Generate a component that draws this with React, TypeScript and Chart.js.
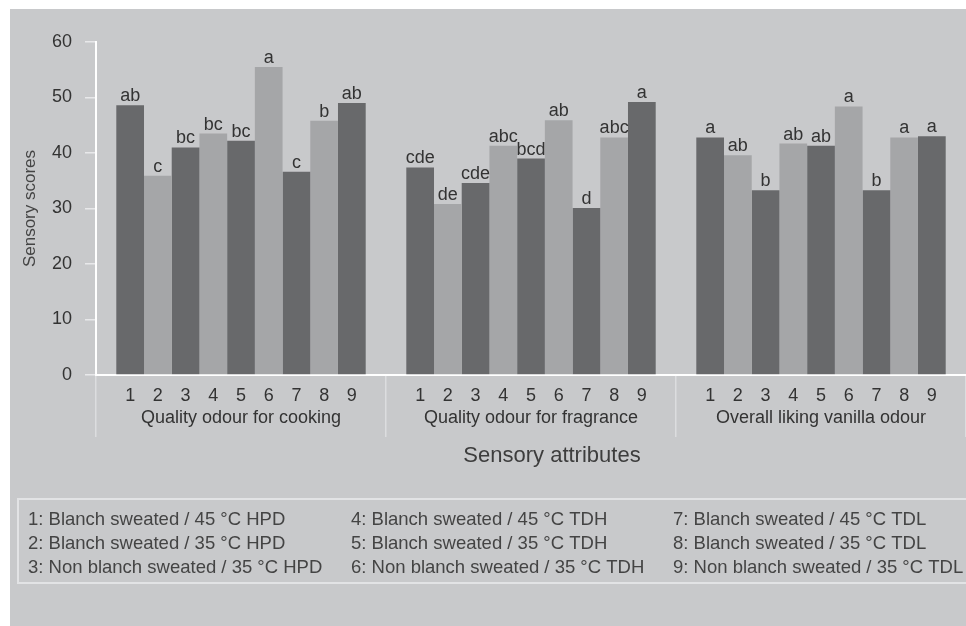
import React, { useEffect, useRef } from 'react';
import { Chart, registerables } from 'chart.js';

Chart.register(...registerables);

const FONT = '"Liberation Sans", Arial, Helvetica, sans-serif';

const groups = ['Quality odour for cooking', 'Quality odour for fragrance', 'Overall liking vanilla odour'];
const treatments = ['1', '2', '3', '4', '5', '6', '7', '8', '9'];

const cooking = [48.6, 35.9, 41.0, 43.5, 42.2, 55.5, 36.6, 45.8, 49.0];
const fragrance = [37.4, 30.8, 34.6, 41.3, 39.0, 45.9, 30.1, 42.8, 49.2];
const liking = [42.8, 39.6, 33.3, 41.7, 41.3, 48.4, 33.3, 42.8, 43.0];

const cookingLetters = ['ab', 'c', 'bc', 'bc', 'bc', 'a', 'c', 'b', 'ab'];
const fragranceLetters = ['cde', 'de', 'cde', 'abc', 'bcd', 'ab', 'd', 'abc', 'a'];
const likingLetters = ['a', 'ab', 'b', 'ab', 'ab', 'a', 'b', 'a', 'a'];

const legendLabels = [
  '1: Blanch sweated / 45 °C HPD',
  '2: Blanch sweated / 35 °C HPD',
  '3: Non blanch sweated / 35 °C HPD',
  '4: Blanch sweated / 45 °C TDH',
  '5: Blanch sweated / 35 °C TDH',
  '6: Non blanch sweated / 35 °C TDH',
  '7: Blanch sweated / 45 °C TDL',
  '8: Blanch sweated / 35 °C TDL',
  '9: Non blanch sweated / 35 °C TDL',
];

const yTitle = 'Sensory scores';
const xTitle = 'Sensory attributes';
const yMin = 0;
const yMax = 60;
const yStep = 10;

const DARK = '#68696b';
const LIGHT = '#a5a6a8';
const BG = '#c8c9cb';

export default function App() {
  const ref = useRef<HTMLCanvasElement | null>(null);

  useEffect(() => {
    const canvas = ref.current;
    if (!canvas) return;
    const series = [cooking, fragrance, liking];
    const letters = [cookingLetters, fragranceLetters, likingLetters];

    const datasets = treatments.map((t, i) => ({
      label: t,
      data: series.map((s) => s[i]),
      backgroundColor: i % 2 === 0 ? DARK : LIGHT,
      borderWidth: 0,
    }));

    const decor = {
      id: 'decor',
      beforeDraw(chart: any) {
        const ctx = chart.ctx;
        ctx.save();
        ctx.fillStyle = '#ffffff';
        ctx.fillRect(0, 0, chart.width, chart.height);
        ctx.fillStyle = BG;
        ctx.fillRect(10, 9, chart.width - 10, chart.height - 9);
        ctx.restore();
      },
      afterDatasetsDraw(chart: any) {
        const ctx = chart.ctx;
        const xs = chart.scales.x;
        ctx.save();
        ctx.textAlign = 'center';
        for (let i = 0; i < treatments.length; i++) {
          const meta = chart.getDatasetMeta(i);
          meta.data.forEach((bar: any, j: number) => {
            ctx.fillStyle = '#333333';
            ctx.font = `18px ${FONT}`;
            ctx.textBaseline = 'alphabetic';
            ctx.fillText(letters[j][i], bar.x, bar.y - 4);
            ctx.font = `18px ${FONT}`;
            ctx.textBaseline = 'middle';
            ctx.fillText(treatments[i], bar.x, xs.top + 21);
          });
        }
        ctx.restore();
      },
      afterDraw(chart: any) {
        const ctx = chart.ctx;
        ctx.save();
        ctx.fillStyle = '#3d3d3d';
        ctx.font = `22px ${FONT}`;
        ctx.textAlign = 'center';
        ctx.textBaseline = 'middle';
        ctx.fillText(xTitle, 552, 456);

        ctx.strokeStyle = '#e2e3e5';
        ctx.lineWidth = 2;
        ctx.strokeRect(18, 499, chart.width, 84);

        ctx.fillStyle = '#444444';
        ctx.font = `18.5px ${FONT}`;
        ctx.textAlign = 'left';
        ctx.textBaseline = 'alphabetic';
        const colX = [28, 351, 673];
        const rowY = [525, 549, 573];
        legendLabels.forEach((lab, k) => {
          ctx.fillText(lab, colX[Math.floor(k / 3)], rowY[k % 3]);
        });
        ctx.restore();
      },
    };

    const chart = new Chart(canvas, {
      type: 'bar',
      data: { labels: groups, datasets },
      options: {
        responsive: false,
        animation: false,
        devicePixelRatio: 1,
        layout: { padding: { top: 42, left: 0, right: 0, bottom: 0 } },
        datasets: { bar: { categoryPercentage: 0.86, barPercentage: 1 } },
        plugins: { legend: { display: false }, tooltip: { enabled: false } },
        scales: {
          x: {
            offset: true,
            grid: {
              offset: true,
              drawOnChartArea: false,
              drawTicks: true,
              tickLength: 62,
              color: '#dcdddf',
              lineWidth: 1.5,
            },
            border: { display: true, color: '#ffffff', width: 2 },
            ticks: {
              color: '#333333',
              font: { size: 18, family: FONT },
              padding: -30,
              maxRotation: 0,
              autoSkip: false,
            },
            afterFit: (s: any) => {
              s.height = 251;
            },
          },
          y: {
            min: yMin,
            max: yMax,
            ticks: {
              stepSize: yStep,
              color: '#333333',
              font: { size: 18, family: FONT },
              padding: 13,
            },
            grid: {
              drawOnChartArea: false,
              drawTicks: true,
              tickLength: 11,
              color: '#e8e8ea',
              lineWidth: 1.5,
            },
            border: { display: true, color: '#ffffff', width: 2 },
            title: {
              display: true,
              text: yTitle,
              color: '#444444',
              font: { size: 17, family: FONT },
              padding: { top: 20, bottom: 0 },
            },
            afterFit: (s: any) => {
              s.width = 96;
            },
          },
        },
      },
      plugins: [decor],
    } as any);

    return () => chart.destroy();
  }, []);

  return (
    <div style={{ position: 'fixed', left: 0, top: 0, width: 966, height: 626 }}>
      <canvas ref={ref} width={966} height={626} style={{ display: 'block' }} />
    </div>
  );
}
